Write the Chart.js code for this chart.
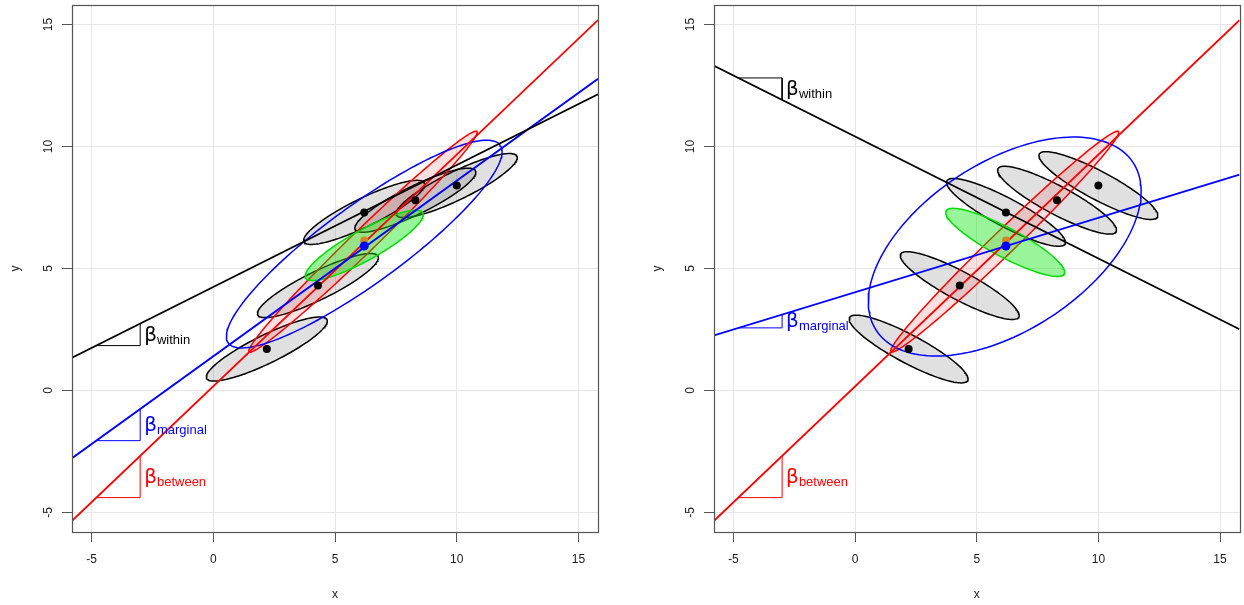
<!DOCTYPE html>
<html>
<head>
<meta charset="utf-8">
<script src="https://cdn.jsdelivr.net/npm/chart.js@4"></script>
<style>
  body { margin: 0; background: #fff; width: 1244px; height: 605px; position: relative; overflow: hidden; }
  canvas { position: absolute; top: 0; }
  #leftChart { left: 0; }
  #rightChart { left: 642px; }
</style>
</head>
<body>
<canvas id="leftChart" width="622" height="605"></canvas>
<canvas id="rightChart" width="602" height="605"></canvas>
<script>
let tickValues = [-5, 0, 5, 10, 15]
let axisRange = [-5.8, 15.8]

// group means and the two overall means
let groupX = [2.2, 4.3, 6.2, 8.3, 10.0]
let groupY = [1.7, 4.3, 7.3, 7.8, 8.4]
let grandMean = [6.2, 5.92]
let meansCentre = [6.2, 6.15]

// regression lines, order: within, marginal, between
let slopeNames = ['within', 'marginal', 'between']
let leftIntercepts = [4.24, 1.40, 0.17]
let leftSlopes = [0.50, 0.72, 0.95]
let rightIntercepts = [10.41, 4.03, 0.17]
let rightSlopes = [-0.50, 0.305, 0.95]
let triangleX = [-4.8, -3]

// ellipses: [cx, cy, semi-major, semi-minor, angle in degrees]
let leftGroupShape = [2.75, 0.58, 26]
let rightGroupShape = [2.75, 0.58, -28]
let leftPooled = [6.2, 5.95, 2.75, 0.62, 29]
let rightPooled = [6.17, 6.07, 2.75, 0.6, -28]
let leftMarginal = [6.2, 6.0, 6.9, 1.6, 36]
let rightMarginal = [6.15, 5.9, 6.3, 3.45, 33]
let betweenEllipse = [6.15, 6.1, 6.5, 0.48, 44]

let lineColors = ['#000000', '#0000ff', '#ff0000']

let ellipsePoints = (cx, cy, a, b, deg) => {
  let th = deg * Math.PI / 180
  let pts = []
  for (let i = 0; i <= 160; i++) {
    let t = i / 160 * 2 * Math.PI
    pts.push({
      x: cx + a * Math.cos(t) * Math.cos(th) - b * Math.sin(t) * Math.sin(th),
      y: cy + a * Math.cos(t) * Math.sin(th) + b * Math.sin(t) * Math.cos(th)
    })
  }
  return pts
}

let ellipseSet = (pts, border, bg, order) => ({
  data: pts, borderColor: border, borderWidth: 1.5,
  backgroundColor: bg || 'transparent', fill: bg ? 'shape' : false,
  pointRadius: 0, tension: 0, order: order
})

// plot box (R style) and the beta labels
let boxPlugin = {
  id: 'rbox',
  afterDatasetsDraw(chart) {
    let {ctx, chartArea: ca} = chart
    ctx.save()
    ctx.strokeStyle = '#555'
    ctx.lineWidth = 1.2
    ctx.strokeRect(Math.round(ca.left) + 0.5, Math.round(ca.top) + 0.5, Math.round(ca.width), Math.round(ca.height))
    ctx.restore()
  }
}

let betaPlugin = {
  id: 'betaLabels',
  afterDatasetsDraw(chart, args, opts) {
    let {ctx, scales: {x, y}} = chart
    opts.intercepts.forEach((a, i) => {
      let b = opts.slopes[i]
      let px = x.getPixelForValue(triangleX[1]) + 4
      let py = (y.getPixelForValue(a + b * triangleX[0]) + y.getPixelForValue(a + b * triangleX[1])) / 2
      ctx.save()
      ctx.fillStyle = lineColors[i]
      ctx.textBaseline = 'alphabetic'
      ctx.font = '20px "DejaVu Sans"'
      ctx.fillText('β', px, py + 6)
      let w = ctx.measureText('β').width
      ctx.font = '13px "Liberation Sans"'
      ctx.fillText(slopeNames[i], px + w, py + 9)
      ctx.restore()
    })
  }
}

let axisFont = {family: '"Liberation Sans", Arial, sans-serif', size: 12}

let makePanel = (canvasId, intercepts, slopes, groupShape, pooled, marginal, padRight) => {
  let datasets = []
  // group ellipses
  groupX.forEach((gx, i) => {
    datasets.push(ellipseSet(ellipsePoints(gx, groupY[i], ...groupShape), '#000', 'rgba(0,0,0,0.12)', 60))
  })
  datasets.push(ellipseSet(ellipsePoints(...betweenEllipse), '#ff0000', 'rgba(255,0,0,0.12)', 50))
  datasets.push(ellipseSet(ellipsePoints(...pooled), '#00dd00', 'rgba(0,230,0,0.4)', 45))
  datasets.push(ellipseSet(ellipsePoints(...marginal), '#0000ff', null, 40))
  // regression lines and slope triangles
  intercepts.forEach((a, i) => {
    let b = slopes[i]
    datasets.push({
      data: axisRange.map(v => ({x: v, y: a + b * v})),
      borderColor: lineColors[i], borderWidth: 1.8, pointRadius: 0, fill: false, order: 30
    })
    datasets.push({
      data: [
        {x: triangleX[0], y: a + b * triangleX[0]},
        {x: triangleX[1], y: a + b * triangleX[0]},
        {x: triangleX[1], y: a + b * triangleX[1]}
      ],
      borderColor: lineColors[i], borderWidth: 1, pointRadius: 0, fill: false, order: 30
    })
  })
  datasets.push({
    data: groupX.map((gx, i) => ({x: gx, y: groupY[i]})),
    showLine: false, pointRadius: 4, pointBorderWidth: 0,
    pointBackgroundColor: '#000', order: 10
  })
  datasets.push({
    data: [{x: meansCentre[0], y: meansCentre[1]}],
    showLine: false, pointRadius: 4, pointBorderWidth: 0,
    pointBackgroundColor: '#d08a20', order: 8
  })
  datasets.push({
    data: [{x: grandMean[0], y: grandMean[1]}],
    showLine: false, pointRadius: 4.5, pointBorderWidth: 0,
    pointBackgroundColor: '#0000ff', order: 5
  })

  let axis = (title, isY) => ({
    type: 'linear', min: axisRange[0], max: axisRange[1],
    afterBuildTicks: s => { s.ticks = tickValues.map(v => ({value: v})) },
    afterFit: s => {
      if (isY) s.width = 72; else s.height = 73
      // labels sit inside the range, no extra room needed
      s.paddingTop = 0; s.paddingBottom = 0; s.paddingLeft = 0; s.paddingRight = 0
    },
    grid: {color: '#e6e6e6', tickColor: '#555', tickLength: 10, lineWidth: 1},
    border: {display: true, color: '#555', width: 1},
    ticks: isY
      ? {minRotation: 90, maxRotation: 90, crossAlign: 'center', padding: 7, color: '#1a1a1a', font: axisFont}
      : {padding: 10, color: '#1a1a1a', font: axisFont, maxRotation: 0},
    title: {display: true, text: title, color: '#1a1a1a', font: axisFont,
      padding: isY ? {top: 8} : {bottom: 3}}
  })

  new Chart(document.getElementById(canvasId), {
    type: 'line',
    data: {datasets: datasets},
    options: {
      responsive: false,
      animation: false,
      devicePixelRatio: 1,
      layout: {padding: {left: 0, top: 5, right: padRight, bottom: 0}},
      plugins: {
        legend: {display: false},
        tooltip: {enabled: false},
        betaLabels: {intercepts: intercepts, slopes: slopes}
      },
      scales: {x: axis('x', false), y: axis('y', true)}
    },
    plugins: [boxPlugin, betaPlugin]
  })
}

makePanel('leftChart', leftIntercepts, leftSlopes, leftGroupShape, leftPooled, leftMarginal, 24)
makePanel('rightChart', rightIntercepts, rightSlopes, rightGroupShape, rightPooled, rightMarginal, 2)
</script>
</body>
</html>
